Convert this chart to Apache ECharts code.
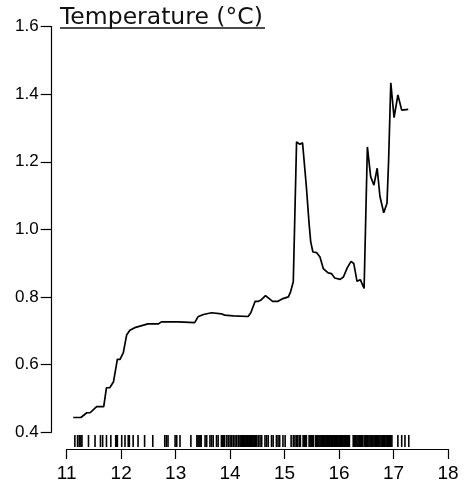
<!DOCTYPE html>
<html>
<head>
<meta charset="utf-8">
<script src="https://cdn.jsdelivr.net/npm/echarts@6/dist/echarts.min.js"></script>
<style>
  html, body { margin: 0; padding: 0; background: #fff; }
  #chart { width: 468px; height: 490px; }
</style>
</head>
<body>
<div id="chart"></div>
<script>
// temperature curve
var tempX = [11.12, 11.26, 11.37, 11.43, 11.55, 11.68, 11.73, 11.79, 11.86, 11.93,
    11.98, 12.04, 12.10, 12.16, 12.25, 12.38, 12.49, 12.68, 12.74, 13.05,
    13.35, 13.41, 13.51, 13.66, 13.84, 13.90, 14.06, 14.33, 14.38, 14.46,
    14.52, 14.56, 14.65, 14.78, 14.88, 14.97, 15.07, 15.11, 15.16, 15.22,
    15.25, 15.28, 15.33, 15.40, 15.45, 15.48, 15.52, 15.59, 15.65, 15.71,
    15.80, 15.86, 15.92, 16.02, 16.08, 16.15, 16.22, 16.27, 16.33, 16.39,
    16.46, 16.52, 16.58, 16.64, 16.70, 16.75, 16.82, 16.88, 16.91, 16.95,
    17.01, 17.08, 17.15, 17.27];
var tempY = [0.443, 0.443, 0.457, 0.457, 0.475, 0.475, 0.531, 0.531, 0.549, 0.615,
    0.615, 0.635, 0.687, 0.701, 0.709, 0.715, 0.720, 0.720, 0.726, 0.726,
    0.724, 0.741, 0.748, 0.753, 0.750, 0.746, 0.744, 0.742, 0.753, 0.787,
    0.787, 0.790, 0.804, 0.787, 0.787, 0.795, 0.800, 0.815, 0.845, 1.259,
    1.256, 1.252, 1.256, 1.126, 1.017, 0.963, 0.933, 0.931, 0.918, 0.884,
    0.871, 0.869, 0.856, 0.852, 0.859, 0.886, 0.905, 0.899, 0.846, 0.851,
    0.825, 1.244, 1.156, 1.131, 1.181, 1.098, 1.049, 1.077, 1.205, 1.434,
    1.331, 1.398, 1.353, 1.355];

// sample positions for the rug under the plot
var rugX = [11.15, 11.20, 11.23, 11.26, 11.28, 11.40, 11.52, 11.62, 11.66, 11.73,
    11.81, 11.90, 11.92, 11.93, 12.01, 12.07, 12.13, 12.15, 12.22, 12.31,
    12.43, 12.58, 12.80, 12.83, 12.86, 12.99, 13.02, 13.08,
    13.28, 13.39, 13.41, 13.43, 13.45, 13.47, 13.54, 13.57, 13.63, 13.66,
    13.69, 13.75, 13.78, 13.84, 13.86, 13.87, 13.89, 13.90, 13.94, 13.97,
    14.00, 14.03, 14.06, 14.09, 14.12, 14.15, 14.18, 14.20, 14.21, 14.23,
    14.24, 14.26, 14.27, 14.29, 14.30, 14.32, 14.33, 14.35, 14.36, 14.38,
    14.39, 14.41, 14.42, 14.44, 14.45, 14.47, 14.49, 14.52, 14.55, 14.58,
    14.64, 14.67, 14.70, 14.76, 14.79, 14.85, 14.88, 14.91, 14.97, 15.01,
    15.12, 15.16, 15.19,
    15.22, 15.24, 15.27, 15.29, 15.34, 15.36, 15.38, 15.40, 15.45, 15.47,
    15.49, 15.51, 15.53, 15.57, 15.59, 15.61, 15.63, 15.65, 15.67, 15.68,
    15.70, 15.71, 15.73, 15.74, 15.76, 15.77, 15.79, 15.80, 15.82, 15.83,
    15.85, 15.86, 15.88, 15.89, 15.91, 15.92, 15.94, 15.95, 15.97, 15.98,
    16.00, 16.01, 16.03, 16.04, 16.06, 16.07, 16.09, 16.10, 16.12, 16.13,
    16.15, 16.17, 16.19, 16.26, 16.28, 16.30, 16.31, 16.33, 16.35, 16.37,
    16.39, 16.41, 16.43, 16.46, 16.48, 16.50, 16.52, 16.53, 16.55, 16.57,
    16.59, 16.62, 16.64, 16.66, 16.67, 16.69, 16.71, 16.73, 16.75, 16.77,
    16.79, 16.80, 16.82, 16.84, 16.86, 16.88, 16.89, 16.91, 16.93, 16.95,
    16.97, 17.08, 17.15, 17.21, 17.28];

var yTicks = [0.4, 0.6, 0.8, 1.0, 1.2, 1.4, 1.6];
var xTicks = [11, 12, 13, 14, 15, 16, 17, 18];

var lineData = tempX.map(function (x, i) { return [x, tempY[i]]; });
var rugData = rugX.map(function (x) { return [x]; });

var myChart = echarts.init(document.getElementById('chart'), null, { renderer: 'canvas' });

// one short vertical bar per sample, placed by the x axis scale
function renderRug(params, api) {
    var top = api.coord([api.value(0), 14]);
    var bottom = api.coord([api.value(0), 2]);
    return {
        type: 'rect',
        shape: { x: top[0] - 0.8, y: top[1], width: 1.6, height: bottom[1] - top[1] },
        style: { fill: '#000' }
    };
}

var option = {
    backgroundColor: '#fff',
    animation: false,
    graphic: [
        {
            type: 'text',
            left: 60, top: 6,
            style: {
                text: 'Temperature (°C)',
                font: '23.5px "DejaVu Sans"',
                fill: '#111'
            }
        },
        {
            type: 'line',
            shape: { x1: 60, y1: 28, x2: 265, y2: 28 },
            style: { stroke: '#111', lineWidth: 1.4 }
        }
    ],
    grid: [
        // plot region starts a little left of x = 11, where the y axis sits
        { left: 51.7, right: 20, top: 26.7, height: 405.3 },
        { left: 66.7, right: 20, top: 435, height: 14 }
    ],
    xAxis: [
        { gridIndex: 0, type: 'value', min: 10.725, max: 18, show: false },
        {
            gridIndex: 1, type: 'value', min: xTicks[0], max: xTicks[xTicks.length - 1], interval: 1,
            splitLine: { show: false },
            axisLine: { lineStyle: { color: '#000', width: 1.2 } },
            axisTick: { length: 10, lineStyle: { color: '#000', width: 1.2 } },
            axisLabel: {
                margin: 15, color: '#000', fontSize: 19,
                fontFamily: 'Liberation Sans'
            }
        }
    ],
    yAxis: [
        {
            gridIndex: 0, type: 'value', min: yTicks[0], max: yTicks[yTicks.length - 1], interval: 0.2,
            splitLine: { show: false },
            axisLine: { show: true, lineStyle: { color: '#000', width: 1.2 } },
            axisTick: { show: true, length: 11, lineStyle: { color: '#000', width: 1.2 } },
            axisLabel: {
                margin: 13, color: '#000', fontSize: 17,
                fontFamily: 'Liberation Sans',
                formatter: function (v) { return v.toFixed(1); }
            }
        },
        { gridIndex: 1, type: 'value', min: 0, max: 14, show: false }
    ],
    series: [
        {
            type: 'line',
            xAxisIndex: 0, yAxisIndex: 0,
            data: lineData,
            showSymbol: false,
            lineStyle: { color: '#000', width: 1.7 }
        },
        {
            type: 'custom',
            xAxisIndex: 1, yAxisIndex: 1,
            data: rugData,
            encode: { x: 0 },
            renderItem: renderRug
        }
    ]
};

myChart.setOption(option);
</script>
</body>
</html>
